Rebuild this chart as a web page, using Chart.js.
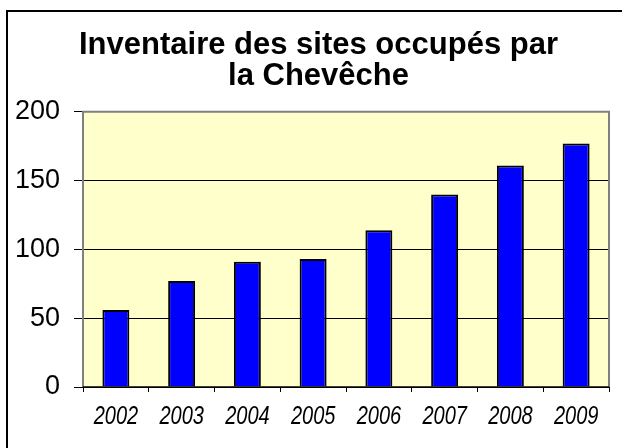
<!DOCTYPE html>
<html>
<head>
<meta charset="utf-8">
<script src="https://cdn.jsdelivr.net/npm/chart.js@4/dist/chart.umd.min.js"></script>
<style>
html,body{margin:0;padding:0;background:#fff;}
#wrap{position:relative;width:622px;height:448px;}
</style>
</head>
<body>
<div id="wrap"><canvas id="c" width="622" height="448"></canvas></div>
<script>
const titleLines = ["Inventaire des sites occupés par", "la Chevêche"];
const years = ["2002", "2003", "2004", "2005", "2006", "2007", "2008", "2009"];
const sites = [56, 77, 91, 93, 114, 140, 161, 177];
const yTicks = [0, 50, 100, 150, 200];

const NARROW = 0.8;

const framePlugin = {
  id: 'frame',
  afterLayout(chart) {
    const t = chart.titleBlock;
    if (t) { t.left += 14; t.right += 14; }
    const sx = chart.scales && chart.scales.x;
    if (sx && !sx._narrowed) {
      sx._narrowed = true;
      const orig = sx.drawLabels;
      sx.drawLabels = function (area) {
        const ctx = this.ctx;
        const origRotate = ctx.rotate;
        ctx.rotate = function (r) { origRotate.call(this, r); this.scale(NARROW, 1); };
        try { orig.call(this, area); } finally { ctx.rotate = origRotate; }
      };
    }
  },
  beforeDraw(chart) {
    const ctx = chart.ctx, a = chart.chartArea;
    ctx.save();
    ctx.fillStyle = '#FFFFCC';
    ctx.fillRect(a.left, a.top, a.right - a.left, a.bottom - a.top);
    ctx.strokeStyle = '#000';
    ctx.lineWidth = 2;
    ctx.strokeRect(7, 11, 800, 600);
    ctx.restore();
  },
  afterDatasetsDraw(chart) {
    const ctx = chart.ctx, a = chart.chartArea;
    ctx.save();
    ctx.strokeStyle = '#808080';
    ctx.lineWidth = 2;
    ctx.beginPath();
    ctx.moveTo(a.left, a.bottom);
    ctx.lineTo(a.left, a.top);
    ctx.lineTo(a.right, a.top);
    ctx.lineTo(a.right, a.bottom);
    ctx.stroke();
    ctx.strokeStyle = '#000';
    ctx.lineWidth = 1.5;
    ctx.beginPath();
    ctx.moveTo(a.left, a.bottom);
    ctx.lineTo(a.right, a.bottom);
    ctx.stroke();
    ctx.restore();
  }
};

new Chart(document.getElementById('c'), {
  type: 'bar',
  data: {
    labels: years,
    datasets: [{
      data: sites,
      backgroundColor: '#0000FF',
      borderColor: '#000000',
      borderWidth: 2,
      borderSkipped: 'start',
      categoryPercentage: 1,
      barPercentage: 0.41
    }]
  },
  options: {
    responsive: false,
    animation: false,
    layout: { padding: { left: 0, right: 13, top: 0, bottom: 16 } },
    plugins: {
      legend: { display: false },
      tooltip: { enabled: false },
      title: {
        display: true,
        text: titleLines,
        color: '#000',
        font: { family: "'Liberation Sans', Arial, sans-serif", size: 31, weight: 'bold', lineHeight: 1.03 },
        padding: { top: 29, bottom: 19 }
      }
    },
    scales: {
      x: {
        grid: { display: true, drawOnChartArea: false, offset: true, tickLength: 5, color: '#000', lineWidth: 1 },
        border: { display: false },
        ticks: {
          color: '#000',
          padding: 10,
          maxRotation: 0,
          minRotation: 0,
          font: { family: "'Liberation Sans', Arial, sans-serif", size: 25, style: 'italic' }
        },
        afterFit(s) { s.height = 45; }
      },
      y: {
        min: 0, max: 200,
        afterBuildTicks(s) { s.ticks = yTicks.map(v => ({ value: v })); },
        grid: { color: '#000', lineWidth: 1, tickLength: 9, tickColor: '#000' },
        border: { display: false },
        ticks: {
          color: '#000',
          padding: 14,
          font: { family: "'Liberation Sans', Arial, sans-serif", size: 27 }
        },
        afterFit(s) { s.width = 83; }
      }
    }
  },
  plugins: [framePlugin]
});
</script>
</body>
</html>
